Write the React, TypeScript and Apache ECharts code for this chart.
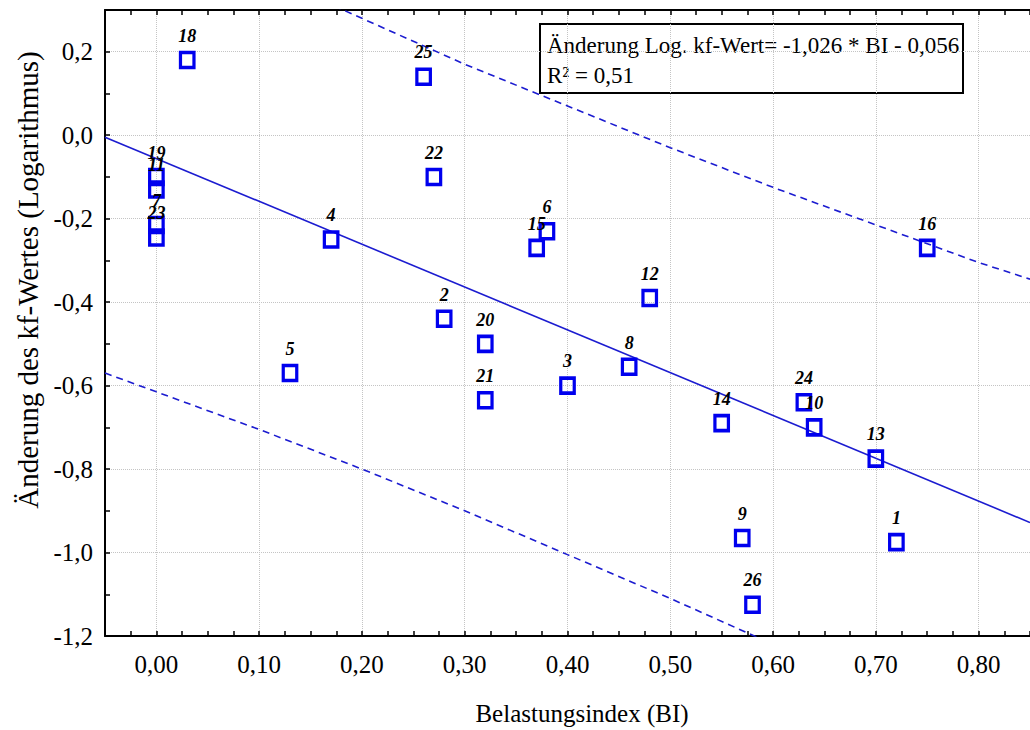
import React, { useEffect, useRef } from "react";
import * as echarts from "echarts";

// Sample numbers and measured values
const pointIds = ["1", "2", "3", "4", "5", "6", "7", "8", "9", "10", "11", "12", "13", "14", "15", "16", "18", "19", "20", "21", "22", "23", "24", "25", "26"];
const belastungsindex = [0.72, 0.28, 0.40, 0.17, 0.13, 0.38, 0.00, 0.46, 0.57, 0.64, 0.00, 0.48, 0.70, 0.55, 0.37, 0.75, 0.03, 0.00, 0.32, 0.32, 0.27, 0.00, 0.63, 0.26, 0.58];
const kfChange = [-0.975, -0.44, -0.60, -0.25, -0.57, -0.23, -0.215, -0.555, -0.965, -0.70, -0.13, -0.39, -0.775, -0.69, -0.27, -0.27, 0.18, -0.10, -0.50, -0.635, -0.10, -0.245, -0.64, 0.14, -1.125];

// Prediction band (dashed curves)
const bandX = [-0.05, 0.0, 0.1, 0.2, 0.3, 0.4, 0.5, 0.6, 0.7, 0.8, 0.85];
const bandUpper = [0.56, 0.50, 0.39, 0.28, 0.17, 0.07, -0.03, -0.125, -0.215, -0.305, -0.345];
const bandLower = [-0.57, -0.615, -0.705, -0.80, -0.90, -1.005, -1.11, -1.22, -1.335, -1.45, -1.51];

// Regression: Änderung Log. kf-Wert = -1,026 * BI - 0,056
const fitSlope = -1.026;
const fitIntercept = -0.056;

const xRange = [-0.05, 0.85];
const yRange = [-1.2, 0.3];

const xTitle = "Belastungsindex (BI)";
const yTitle = "Änderung des kf-Wertes (Logarithmus)";
const equationText = "Änderung Log. kf-Wert= -1,026 * BI - 0,056";
const r2Text = "R² = 0,51";

const SERIF = "'Liberation Serif', 'Times New Roman', serif";
const BLUE = "#0000ee";
const LINE_BLUE = "#1c1cd0";

const fmt = (v: number, digits: number) => {
  if (Math.abs(v) < 1e-9) return (0).toFixed(digits).replace(".", ",");
  return v.toFixed(digits).replace(".", ",");
};

export default function App() {
  const ref = useRef<HTMLDivElement>(null);

  useEffect(() => {
    if (!ref.current) return;
    const chart = echarts.init(ref.current, undefined, { renderer: "svg" });

    const scatterData = pointIds.map((id, i) => ({
      name: id,
      value: [belastungsindex[i], kfChange[i]],
    }));
    const fitData = xRange.map((x) => [x, fitSlope * x + fitIntercept]);
    const upperData = bandX.map((x, i) => [x, bandUpper[i]]);
    const lowerData = bandX.map((x, i) => [x, bandLower[i]]);

    const xAxisCommon = {
      type: "value" as const,
      min: xRange[0],
      max: xRange[1],
      splitNumber: 9,
      minInterval: 0.1,
      maxInterval: 0.1,
      axisLine: { show: true, onZero: false, lineStyle: { color: "#000", width: 2 } },
      axisTick: { show: true, inside: true, length: 5, lineStyle: { color: "#000", width: 1.5 } },
      minorTick: { show: true, splitNumber: 4, length: 5, lineStyle: { color: "#000", width: 1.5 } },
    };

    chart.setOption({
      animation: false,
      backgroundColor: "#fff",
      grid: { left: 105, top: 10, right: 0, bottom: 94, containLabel: false, outerBoundsMode: "none" },
      xAxis: [
        {
          ...xAxisCommon,
          position: "bottom",
          axisLabel: {
            show: true,
            showMinLabel: false,
            showMaxLabel: false,
            margin: 16,
            fontFamily: SERIF,
            fontSize: 25,
            color: "#000",
            formatter: (v: number) => (Math.abs(Math.round(v * 10) - v * 10) > 1e-6 ? "" : fmt(v, 2)),
          },
          splitLine: {
            show: true,
            showMinLine: false,
            showMaxLine: false,
            lineStyle: { color: "#c4c4c4", width: 1, type: "dotted" },
          },
        },
        {
          ...xAxisCommon,
          position: "top",
          axisLabel: { show: false },
          splitLine: { show: false },
        },
      ],
      yAxis: {
        type: "value",
        min: yRange[0],
        max: yRange[1],
        interval: 0.2,
        axisLine: { show: true, onZero: false, lineStyle: { color: "#000", width: 2 } },
        axisTick: { show: true, inside: true, length: 5, lineStyle: { color: "#000", width: 1.5 } },
        minorTick: { show: true, splitNumber: 2, length: 5, lineStyle: { color: "#000", width: 1.5 } },
        axisLabel: {
          show: true,
          showMaxLabel: false,
          margin: 12,
          fontFamily: SERIF,
          fontSize: 25,
          color: "#000",
          formatter: (v: number) => (v > 0.25 ? "" : fmt(v, 1)),
        },
        splitLine: {
          show: true,
          showMinLine: false,
          showMaxLine: false,
          lineStyle: { color: "#c4c4c4", width: 1, type: "dotted" },
        },
      },
      series: [
        {
          type: "line",
          data: upperData,
          showSymbol: false,
          symbol: "none",
          clip: true,
          silent: true,
          lineStyle: { color: LINE_BLUE, width: 1.6, type: [7, 5] },
          z: 2,
        },
        {
          type: "line",
          data: lowerData,
          showSymbol: false,
          symbol: "none",
          clip: true,
          silent: true,
          lineStyle: { color: LINE_BLUE, width: 1.6, type: [7, 5] },
          z: 2,
        },
        {
          type: "line",
          data: fitData,
          showSymbol: false,
          symbol: "none",
          clip: true,
          silent: true,
          lineStyle: { color: LINE_BLUE, width: 1.6, type: "solid" },
          z: 3,
        },
        {
          type: "scatter",
          data: scatterData,
          symbol: "rect",
          symbolSize: [13.5, 15],
          itemStyle: { color: "rgba(255,255,255,0)", borderColor: BLUE, borderWidth: 3.4, opacity: 1 },
          label: {
            show: true,
            position: "top",
            distance: 6,
            formatter: (p: any) => p.name,
            fontFamily: SERIF,
            fontSize: 18,
            fontWeight: "bold",
            fontStyle: "italic",
            color: "#000",
          },
          z: 4,
        },
      ],
      graphic: [
        {
          type: "group",
          z: 100,
          children: [
            {
              type: "rect",
              shape: { x: 540, y: 24, width: 423, height: 69 },
              style: { fill: "#fff", stroke: "#000", lineWidth: 2 },
            },
            {
              type: "text",
              x: 547,
              y: 45,
              style: {
                text: equationText,
                fontFamily: SERIF,
                fontSize: 23,
                fill: "#000",
                verticalAlign: "middle",
                align: "left",
              },
            },
            {
              type: "text",
              x: 547,
              y: 75,
              style: {
                text: r2Text,
                fontFamily: SERIF,
                fontSize: 23,
                fill: "#000",
                verticalAlign: "middle",
                align: "left",
              },
            },
          ],
        },
        {
          type: "text",
          x: 582,
          y: 713,
          z: 100,
          style: {
            text: xTitle,
            fontFamily: SERIF,
            fontSize: 25,
            fill: "#000",
            align: "center",
            verticalAlign: "middle",
          },
        },
        {
          type: "text",
          x: 28,
          y: 280,
          rotation: Math.PI / 2,
          z: 100,
          style: {
            text: yTitle,
            fontFamily: SERIF,
            fontSize: 29,
            fill: "#000",
            align: "center",
            verticalAlign: "middle",
          },
        },
      ],
    });

    return () => chart.dispose();
  }, []);

  return (
    <div
      ref={ref}
      style={{ position: "absolute", left: 0, top: 0, width: 1030, height: 730, background: "#fff" }}
    />
  );
}
